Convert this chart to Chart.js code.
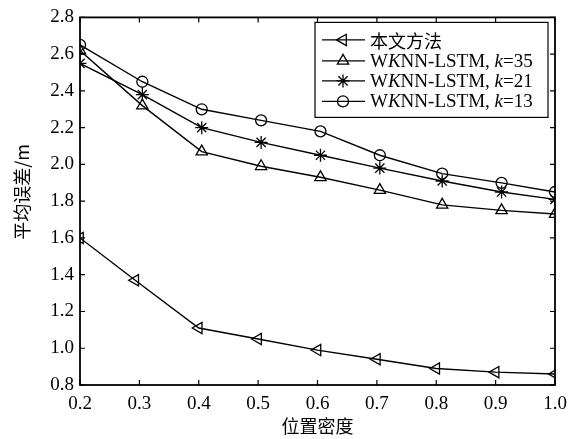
<!DOCTYPE html>
<html>
<head>
<meta charset="utf-8">
<script src="https://cdn.jsdelivr.net/npm/chart.js@4/dist/chart.umd.min.js"></script>
<style>
  html, body { margin: 0; padding: 0; background: #fff; }
  #wrap { width: 575px; height: 439px; }
</style>
</head>
<body>
<div id="wrap"><canvas id="c" width="575" height="439"></canvas></div>
<script>
// Position density (x) for each series, and mean error in metres (y)
const densityTicks = [0.2, 0.3, 0.4, 0.5, 0.6, 0.7, 0.8, 0.9, 1.0];
const errorTicks = [0.8, 1.0, 1.2, 1.4, 1.6, 1.8, 2.0, 2.2, 2.4, 2.6, 2.8];

const xOurs = [0.2, 0.293, 0.4, 0.5, 0.6, 0.7, 0.8, 0.9, 1.0];
const xWknn = [0.2, 0.305, 0.405, 0.505, 0.605, 0.705, 0.81, 0.91, 1.0];

const errOurs = [1.60, 1.37, 1.11, 1.05, 0.99, 0.94, 0.89, 0.87, 0.86];
const errK35  = [2.62, 2.32, 2.07, 1.99, 1.93, 1.86, 1.78, 1.75, 1.73];
const errK21  = [2.55, 2.38, 2.20, 2.12, 2.05, 1.98, 1.91, 1.85, 1.81];
const errK13  = [2.65, 2.45, 2.30, 2.24, 2.18, 2.05, 1.95, 1.90, 1.85];

const seriesNames = ['本文方法', 'WKNN-LSTM, k=35', 'WKNN-LSTM, k=21', 'WKNN-LSTM, k=13'];
const xTitle = '位置密度';
const yTitle = '平均误差/m';

const SERIF = "'Liberation Serif', 'Times New Roman', serif";
const CJK = "'Noto Sans CJK SC', sans-serif";

function pts(xs, ys) { return xs.map((x, i) => ({ x: x, y: ys[i] })); }

function series(label, xs, ys, style, radius, rotation) {
  return {
    label: label,
    data: pts(xs, ys),
    borderColor: '#000',
    borderWidth: 1.4,
    backgroundColor: 'rgba(0,0,0,0)',
    pointStyle: style,
    pointRadius: radius,
    pointRotation: rotation || 0,
    pointBorderColor: '#000',
    pointBackgroundColor: 'rgba(0,0,0,0)',
    pointBorderWidth: 1.3,
    tension: 0,
    fill: false
  };
}

const datasets = [
  series(seriesNames[0], xOurs, errOurs, 'triangle', 6.5, -90),
  series(seriesNames[1], xWknn, errK35, 'triangle', 6.5, 0),
  series(seriesNames[2], xWknn, errK21, 'star', 6.5, 0),
  series(seriesNames[3], xWknn, errK13, 'circle', 5.5, 0)
];

// Box frame with inward ticks on all four sides, plus the rotated y title
const frameAndTicks = {
  id: 'frameAndTicks',
  afterDatasetsDraw(chart) {
    const { ctx, chartArea: a, scales } = chart;
    ctx.save();
    ctx.strokeStyle = '#000';
    ctx.lineWidth = 1.2;
    const len = 5;
    densityTicks.forEach(v => {
      const px = scales.x.getPixelForValue(v);
      ctx.beginPath();
      ctx.moveTo(px, a.bottom); ctx.lineTo(px, a.bottom - len);
      ctx.moveTo(px, a.top); ctx.lineTo(px, a.top + len);
      ctx.stroke();
    });
    errorTicks.forEach(v => {
      const py = scales.y.getPixelForValue(v);
      ctx.beginPath();
      ctx.moveTo(a.left, py); ctx.lineTo(a.left + len, py);
      ctx.moveTo(a.right, py); ctx.lineTo(a.right - len, py);
      ctx.stroke();
    });
    ctx.lineWidth = 1.8;
    ctx.strokeRect(a.left, a.top, a.right - a.left, a.bottom - a.top);

    ctx.translate(22, scales.y.getPixelForValue(1.85));
    ctx.rotate(-Math.PI / 2);
    ctx.fillStyle = '#000';
    ctx.font = '18px ' + CJK;
    ctx.textAlign = 'center';
    ctx.textBaseline = 'middle';
    ctx.fillText(yTitle, 0, 0);
    ctx.restore();
  }
};

// Legend box with mixed upright / italic text
const boxLegend = {
  id: 'boxLegend',
  afterDraw(chart) {
    const { ctx, chartArea: a } = chart;
    const boxL = a.left + 235, boxT = a.top + 5, boxW = 233, boxH = 95;
    ctx.save();
    ctx.fillStyle = '#fff';
    ctx.fillRect(boxL, boxT, boxW, boxH);
    ctx.strokeStyle = '#000';
    ctx.lineWidth = 1.2;
    ctx.strokeRect(boxL, boxT, boxW, boxH);

    const rowY = [boxT + 17.5, boxT + 38.5, boxT + 58.5, boxT + 79];
    chart.data.datasets.forEach((ds, i) => {
      const y = rowY[i];
      ctx.strokeStyle = '#000';
      ctx.lineWidth = 1.4;
      ctx.beginPath();
      ctx.moveTo(boxL + 7, y); ctx.lineTo(boxL + 50, y);
      ctx.stroke();
      ctx.lineWidth = 1.3;
      ctx.fillStyle = 'rgba(0,0,0,0)';
      Chart.helpers.drawPoint(ctx, {
        pointStyle: ds.pointStyle,
        rotation: ds.pointRotation,
        radius: ds.pointRadius,
        borderWidth: 1.3
      }, boxL + 28, y);

      ctx.fillStyle = '#000';
      ctx.textBaseline = 'middle';
      ctx.textAlign = 'left';
      let x = boxL + 55;
      if (i === 0) {
        ctx.font = '18px ' + CJK;
        ctx.fillText(ds.label, x, y + 1);
      } else {
        const m = ds.label.match(/^W(K)(NN-LSTM, )(k)(=\d+)$/);
        const parts = [
          ['W', false], [m[1], true], [m[2], false], [m[3], true], [m[4], false]
        ];
        parts.forEach(([t, it]) => {
          ctx.font = (it ? 'italic ' : '') + '19px ' + SERIF;
          ctx.fillText(t, x, y + 1);
          x += ctx.measureText(t).width;
        });
      }
    });
    ctx.restore();
  }
};

const whiteBg = {
  id: 'whiteBg',
  beforeDraw(chart) {
    const { ctx, width, height } = chart;
    ctx.save();
    ctx.fillStyle = '#fff';
    ctx.fillRect(0, 0, width, height);
    ctx.restore();
  }
};

new Chart(document.getElementById('c'), {
  type: 'line',
  data: { datasets: datasets },
  options: {
    responsive: false,
    devicePixelRatio: 1,
    animation: false,
    layout: { padding: { left: 0, right: 20, top: 15, bottom: 0 } },
    plugins: {
      legend: { display: false },
      tooltip: { enabled: false }
    },
    scales: {
      x: {
        type: 'linear',
        min: 0.2, max: 1.0,
        afterBuildTicks(scale) { scale.ticks = densityTicks.map(v => ({ value: v })); },
        afterFit(scale) { scale.height = 54; },
        grid: { display: false, drawTicks: false },
        border: { display: false },
        ticks: {
          color: '#000',
          padding: 8,
          font: { family: SERIF, size: 19 },
          callback: v => Number(v).toFixed(1)
        },
        title: {
          display: true,
          text: xTitle,
          color: '#000',
          font: { family: CJK, size: 18 },
          padding: { top: 4, bottom: 2 }
        }
      },
      y: {
        type: 'linear',
        min: 0.8, max: 2.8,
        afterBuildTicks(scale) { scale.ticks = errorTicks.map(v => ({ value: v })); },
        afterFit(scale) { scale.width = 80; },
        grid: { display: false, drawTicks: false },
        border: { display: false },
        ticks: {
          color: '#000',
          padding: 6,
          font: { family: SERIF, size: 19 },
          callback: v => Number(v).toFixed(1)
        }
      }
    }
  },
  plugins: [whiteBg, frameAndTicks, boxLegend]
});
</script>
</body>
</html>
